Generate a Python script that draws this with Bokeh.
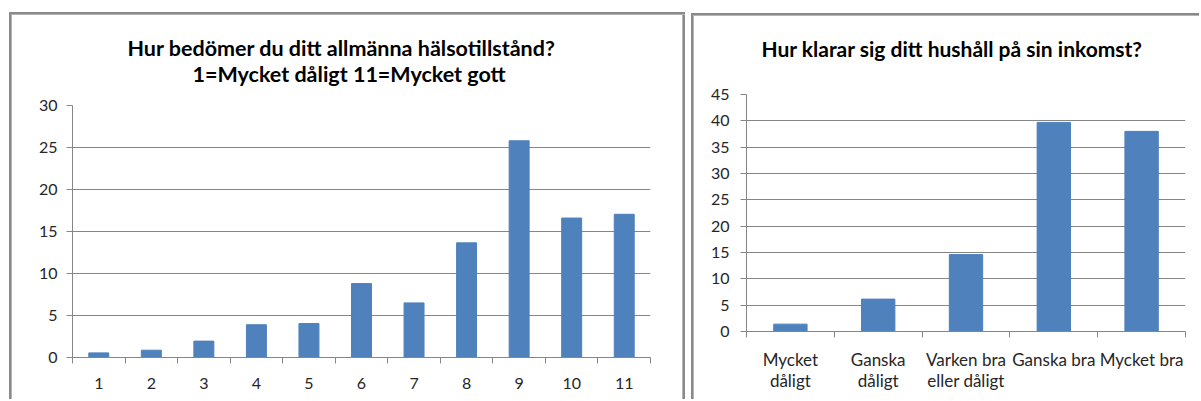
from bokeh.plotting import figure
from bokeh.models import FixedTicker, Range1d, Title
from bokeh.layouts import row, column
from bokeh.embed import file_html
from bokeh.resources import INLINE

# ---- data ----
left_categories = ["1", "2", "3", "4", "5", "6", "7", "8", "9", "10", "11"]
left_values = [0.55, 0.87, 1.95, 3.9, 4.05, 8.8, 6.5, 13.65, 25.8, 16.6, 17.05]
left_yticks = [0, 5, 10, 15, 20, 25, 30]

right_categories = ["Mycket\ndåligt", "Ganska\ndåligt", "Varken bra\neller dåligt", "Ganska bra", "Mycket bra"]
right_values = [1.4, 6.15, 14.6, 39.7, 38.0]
right_yticks = [0, 5, 10, 15, 20, 25, 30, 35, 40, 45]

left_title_1 = "Hur bedömer du ditt allmänna hälsotillstånd?"
left_title_2 = "1=Mycket dåligt  11=Mycket gott"
right_title = "Hur klarar sig ditt hushåll på sin inkomst?"

BAR = "#4F81BD"
GRID = "#868686"
FONT = "Lato"
TXT = "#262626"
SHADOW_LR = ("inset 2px 2px 0 0 #8a8a8a, inset 3px 3px 0 0 #b4b4b4, "
             "inset -2px 0 0 0 #8a8a8a, inset -3px 0 0 0 #b4b4b4")
SHADOW_L = "inset 2px 2px 0 0 #8a8a8a, inset 3px 3px 0 0 #b4b4b4"


def title(text, size, standoff, offset):
    return Title(text=text, align="left", offset=offset, standoff=standoff,
                 text_font=FONT, text_font_style="bold", text_font_size=size,
                 text_color="#000000")


def make_chart(cats, vals, yticks, width, height, mb, margin, shadow,
               xlabel_size, xlabel_standoff, ylabel_standoff):
    n = len(cats)
    xs = list(range(1, n + 1))
    p = figure(width=width, height=height, output_backend="svg", toolbar_location=None,
               x_range=Range1d(0.5, n + 0.5), y_range=Range1d(yticks[0], yticks[-1]),
               min_border_left=mb[0], min_border_right=mb[1], min_border_top=mb[2],
               min_border_bottom=mb[3], title_location=None, margin=margin,
               styles={"box-shadow": shadow})
    p.vbar(x=xs, top=vals, width=0.38, color=BAR)

    p.outline_line_color = None
    p.background_fill_color = "white"
    p.border_fill_color = None

    p.xgrid.grid_line_color = None
    p.ygrid.grid_line_color = GRID
    p.ygrid.ticker = FixedTicker(ticks=yticks)

    xa = p.xaxis[0]
    xa.ticker = FixedTicker(ticks=xs, minor_ticks=[x - 0.5 for x in xs] + [n + 0.5])
    xa.major_label_overrides = {x: c for x, c in zip(xs, cats)}
    xa.major_tick_out = 0
    xa.major_tick_in = 0
    xa.minor_tick_out = 6
    xa.minor_tick_in = 0
    xa.minor_tick_line_color = GRID
    xa.axis_line_color = GRID
    xa.major_label_text_font = FONT
    xa.major_label_text_font_size = xlabel_size
    xa.major_label_text_color = TXT
    xa.major_label_text_line_height = 1.0
    xa.major_label_standoff = xlabel_standoff

    ya = p.yaxis[0]
    ya.ticker = FixedTicker(ticks=yticks)
    ya.major_tick_out = 6
    ya.major_tick_in = 0
    ya.minor_tick_line_color = None
    ya.major_tick_line_color = GRID
    ya.axis_line_color = GRID
    ya.major_label_text_font = FONT
    ya.major_label_text_font_size = "16px"
    ya.major_label_text_color = TXT
    ya.major_label_standoff = ylabel_standoff
    return p


p1 = make_chart(left_categories, left_values, left_yticks,
                width=676, height=387, mb=(63, 35, 93, 42), margin=(12, 0, 0, 9),
                shadow=SHADOW_LR, xlabel_size="16px", xlabel_standoff=14, ylabel_standoff=9)
# stacked outward from the frame
p1.add_layout(title(left_title_2, "21.5px", 38, 120), "above")
p1.add_layout(title(left_title_1, "21.5px", -43, 55), "above")

p2 = make_chart(right_categories, right_values, right_yticks,
                width=508, height=386, mb=(55, 14, 81, 68), margin=(13, 0, 0, 6),
                shadow=SHADOW_L, xlabel_size="17px", xlabel_standoff=11, ylabel_standoff=11)
p2.add_layout(title(" ", "21px", 7, 0), "above")   # spacing below the title
p2.add_layout(title(right_title, "21px", 0, 15), "above")

layout = row(column(p1), column(p2))
open("out.html", "w").write(file_html(layout, INLINE))
